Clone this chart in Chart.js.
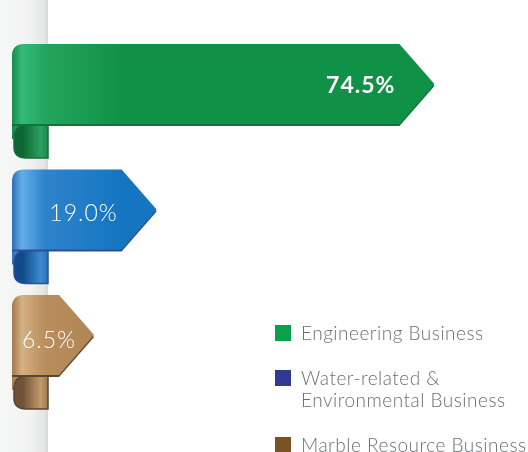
<!DOCTYPE html>
<html>
<head>
<meta charset="utf-8">
<script src="https://cdn.jsdelivr.net/npm/chart.js@4.4.1/dist/chart.umd.min.js"></script>
<style>
    html, body { margin: 0; padding: 0; background: #fff; }
    #wrap { position: relative; width: 528px; height: 452px; overflow: hidden; }
    #legend {
        position: absolute; left: 275px; top: 322px;
        font-family: Lato, "Open Sans", sans-serif; font-weight: 300;
        font-size: 19px; line-height: 22px; letter-spacing: 0.5px; color: #6d6e71;
        white-space: nowrap;
    }
    .item { position: relative; padding-left: 26px; margin-bottom: 23px; }
    .sw { position: absolute; left: 0; top: 3px; width: 16px; height: 16px; }
</style>
</head>
<body>
<div id="wrap">
    <canvas id="shareChart" width="528" height="452"></canvas>
    <div id="legend"></div>
</div>
<script>
// Revenue share by business segment
const categories = ['Engineering Business', ['Water-related &', 'Environmental Business'], 'Marble Resource Business'];
const shares = [74.5, 19.0, 6.5];
const valueLabels = ['74.5%', '19.0%', '6.5%'];

// Look of each ribbon
const palettes = [
    { legend: '#0aa04a', edge: '#17703b', side: '#178a4b', light: '#33bb78', mid: '#23a55f', main: '#0f9247',
      curlDark: '#0d6633', curlLight: '#2ba262', curlWall: '#1c8a4a', weight: 700 },
    { legend: '#2e3a94', edge: '#2b4f9c', side: '#2c6fb8', light: '#63ade8', mid: '#2e83cc', main: '#1575c0',
      curlDark: '#0f4a8a', curlLight: '#3d8ad0', curlWall: '#2a70b8', weight: 300 },
    { legend: '#7a5228', edge: '#5a4636', side: '#a57a4b', light: '#d4b083', mid: '#b98d5c', main: '#ab8150',
      curlDark: '#6f5236', curlLight: '#c39a68', curlWall: '#9c7750', weight: 300 }
];

const MIN_X = -9.9;

function bandPath(ctx, left, top, bottom, fx, tip, cy, r) {
    ctx.beginPath();
    ctx.moveTo(left, bottom);
    ctx.lineTo(left, top + r);
    ctx.quadraticCurveTo(left, top, left + r, top);
    ctx.lineTo(fx, top);
    ctx.lineTo(tip, cy);
    ctx.lineTo(fx, bottom);
    ctx.closePath();
}

function drawRibbon(ctx, bar, p) {
    const { x: tip, y, base, height } = bar.getProps(['x', 'y', 'base', 'height'], true);
    const top = y - height / 2, bottom = y + height / 2;
    const left = base, wall = base + 36, fx = tip - 35;
    const cb = bottom + 34;

    // band colour hanging into the corner of the fold
    let g = ctx.createLinearGradient(left, 0, wall, 0);
    g.addColorStop(0, p.side);
    g.addColorStop(0.3, p.light);
    g.addColorStop(1, p.mid);
    ctx.fillStyle = g;
    ctx.fillRect(left, bottom - 2, 16, 17);

    // curl that wraps behind the wall
    ctx.beginPath();
    ctx.moveTo(wall, bottom);
    ctx.lineTo(left + 15, bottom);
    ctx.quadraticCurveTo(left + 2, bottom + 1, left + 2, bottom + 14);
    ctx.lineTo(left + 2, cb - 11);
    ctx.quadraticCurveTo(left + 2, cb, left + 14, cb);
    ctx.lineTo(wall, cb);
    ctx.closePath();
    g = ctx.createLinearGradient(left, 0, wall, 0);
    g.addColorStop(0, p.curlDark);
    g.addColorStop(0.3, p.curlDark);
    g.addColorStop(0.8, p.curlLight);
    g.addColorStop(1, p.curlWall);
    ctx.fillStyle = g;
    ctx.fill();
    ctx.strokeStyle = p.edge;
    ctx.lineWidth = 1.5;
    ctx.stroke();

    // dark lower edge
    bandPath(ctx, left, top + 2, bottom + 2, fx, tip, y + 2, 12);
    ctx.fillStyle = p.edge;
    ctx.fill();

    // the band itself
    bandPath(ctx, left, top, bottom, fx, tip, y, 12);
    g = ctx.createLinearGradient(left, 0, left + 110, 0);
    g.addColorStop(0, p.side);
    g.addColorStop(0.09, p.light);
    g.addColorStop(0.3, p.mid);
    g.addColorStop(1, p.main);
    ctx.fillStyle = g;
    ctx.fill();

    return { fx, y, left };
}

const ribbonPlugin = {
    id: 'ribbons',
    beforeDatasetsDraw(chart) {
        const ctx = chart.ctx;
        const meta = chart.getDatasetMeta(0);
        const wall = meta.data[0].base + 36;
        const g = ctx.createLinearGradient(0, 0, wall, 0);
        g.addColorStop(0, '#f6f7f7');
        g.addColorStop(0.6, '#f3f3f3');
        g.addColorStop(0.92, '#e4e5e5');
        g.addColorStop(1, '#d6d7d7');
        ctx.save();
        ctx.fillStyle = g;
        ctx.fillRect(0, 0, wall, chart.height);
        ctx.restore();
    },
    afterDatasetsDraw(chart) {
        const ctx = chart.ctx;
        const meta = chart.getDatasetMeta(0);
        meta.data.forEach((bar, i) => {
            const p = palettes[i];
            ctx.save();
            const pos = drawRibbon(ctx, bar, p);
            ctx.font = `${p.weight} 23px Lato, "Open Sans", sans-serif`;
            ctx.letterSpacing = '1px';
            ctx.fillStyle = '#ffffff';
            ctx.textBaseline = 'middle';
            const w = ctx.measureText(valueLabels[i]).width;
            let x = pos.fx - 4 - w;
            if (x < pos.left + 10) x = pos.left + 10;
            ctx.fillText(valueLabels[i], x, pos.y + 2 + i * 2);
            ctx.restore();
        });
    }
};

new Chart(document.getElementById('shareChart'), {
    type: 'bar',
    data: {
        labels: categories,
        datasets: [{
            data: shares,
            base: MIN_X,
            backgroundColor: 'rgba(0,0,0,0)',
            borderWidth: 0,
            barThickness: 80
        }]
    },
    options: {
        indexAxis: 'y',
        responsive: false,
        animation: false,
        layout: { padding: { left: 12, right: 24.5, top: 21.25, bottom: 54.25 } },
        plugins: { legend: { display: false }, tooltip: { enabled: false } },
        scales: {
            x: { display: false, min: MIN_X, max: 88.3 },
            y: { display: false }
        }
    },
    plugins: [ribbonPlugin]
});

// HTML legend
const legendEl = document.getElementById('legend');
categories.forEach((label, i) => {
    const item = document.createElement('div');
    item.className = 'item';
    const sw = document.createElement('span');
    sw.className = 'sw';
    sw.style.background = palettes[i].legend;
    item.appendChild(sw);
    const text = document.createElement('span');
    text.innerHTML = [].concat(label).join('<br>');
    item.appendChild(text);
    legendEl.appendChild(item);
});
</script>
</body>
</html>
